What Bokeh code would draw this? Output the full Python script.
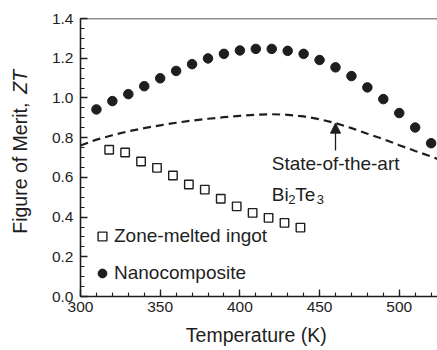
import math
from bokeh.plotting import figure
from bokeh.models import (Range1d, FixedTicker, Label, Arrow, NormalHead, Legend,
                          LegendItem, Span)
from bokeh.embed import file_html
from bokeh.resources import INLINE

# ---- data ----
temp_nano = [310, 320, 330, 340, 350, 360, 370, 380, 390, 400, 410,
             420, 430, 440, 450, 460, 470, 480, 490, 500, 510, 520]
zt_nano = [0.942, 0.984, 1.019, 1.059, 1.099, 1.136, 1.170, 1.199, 1.222, 1.239, 1.247,
           1.247, 1.237, 1.222, 1.191, 1.154, 1.110, 1.053, 0.994, 0.924, 0.851, 0.772]

temp_zone = [318, 328, 338, 348, 358, 368, 378, 388, 398, 408, 418, 428, 438]
zt_zone = [0.739, 0.725, 0.680, 0.648, 0.609, 0.564, 0.538, 0.492, 0.454,
           0.421, 0.396, 0.371, 0.347]

temp_sota = [300, 310, 320, 330, 340, 350, 360, 370, 380, 390, 400, 410,
             420, 430, 440, 450, 460, 470, 480, 490, 500, 510, 520, 525]
zt_sota = [0.760, 0.790, 0.812, 0.832, 0.848, 0.862, 0.875, 0.886, 0.895, 0.903, 0.910, 0.915,
           0.918, 0.915, 0.907, 0.893, 0.873, 0.848, 0.820, 0.793, 0.762, 0.733, 0.705, 0.690]

x_ticks = [300, 350, 400, 450, 500]
y_ticks = [0.0, 0.2, 0.4, 0.6, 0.8, 1.0, 1.2, 1.4]
y_tick_labels = {v: f"{v:.1f}" for v in y_ticks}

arrow_temp = 460
arrow_tip = 0.873
arrow_tail = 0.735

FONT = "Liberation Sans"
INK = "#1e1e1e"

p = figure(width=437, height=350, output_backend="svg", toolbar_location=None,
           x_range=Range1d(300, 524), y_range=Range1d(0, 1.4),
           min_border_left=80, min_border_right=0, min_border_top=18, min_border_bottom=54)
p.outline_line_color = None
p.xgrid.visible = False
p.ygrid.visible = False
p.background_fill_color = "white"
p.border_fill_color = "white"

# state-of-the-art dashed curve
p.line(temp_sota, zt_sota, line_color=INK, line_width=2.2, line_dash="8 5")

sq = p.scatter(temp_zone, zt_zone, marker="square", size=8.5, fill_color="white",
               line_color=INK, line_width=1.4)
ci = p.scatter(temp_nano, zt_nano, marker="circle", size=9.5, fill_color=INK,
               line_color=INK)

# axes
x_minor = [300 + 10 * i for i in range(23)]
y_minor = [round(0.05 * i, 2) for i in range(29)]
p.xaxis.ticker = FixedTicker(ticks=x_ticks, minor_ticks=x_minor)
p.yaxis.ticker = FixedTicker(ticks=y_ticks, minor_ticks=y_minor)
p.yaxis.major_label_overrides = y_tick_labels

for ax in (p.xaxis, p.yaxis):
    ax.axis_line_color = INK
    ax.axis_line_width = 1.6
    ax.major_tick_line_color = INK
    ax.minor_tick_line_color = INK
    ax.major_tick_line_width = 1.3
    ax.minor_tick_line_width = 1.1
    ax.major_tick_in = 7
    ax.major_tick_out = 0
    ax.minor_tick_in = 4
    ax.minor_tick_out = 0
    ax.major_label_text_font = FONT
    ax.major_label_text_font_size = "15.5px"
    ax.major_label_text_color = INK
    ax.axis_label_text_font = FONT
    ax.axis_label_text_font_size = "19.5px"
    ax.axis_label_text_font_style = "normal"
    ax.axis_label_text_color = INK

p.xaxis.major_label_standoff = 5
p.yaxis.major_label_standoff = 7
p.xaxis.axis_label = "Temperature  (K)"
p.xaxis.axis_label_standoff = 9

# top frame line
p.add_layout(Span(location=1.4, dimension="width", line_color=INK, line_width=1.6))

# y-axis label: "Figure of Merit, " + italic "ZT" (placed left of the frame)
p.add_layout(Label(x=262.0, y=0.316, text="Figure of Merit, ", angle=math.pi / 2,
                   text_align="left", text_baseline="alphabetic", text_font=FONT,
                   text_font_size="19.5px", text_color=INK), "left")
p.add_layout(Label(x=262.0, y=0.316, y_offset=140, text="ZT", angle=math.pi / 2,
                   text_align="left", text_baseline="alphabetic", text_font=FONT,
                   text_font_size="19.5px", text_font_style="italic", text_color=INK), "left")

# annotation text + arrow
p.add_layout(Label(x=420, y=0.668, text="State-of-the-art", text_baseline="middle",
                   text_font=FONT, text_font_size="19px", text_color=INK))
p.add_layout(Label(x=420, y=0.512, text="Bi", text_baseline="middle",
                   text_font=FONT, text_font_size="19px", text_color=INK))
p.add_layout(Label(x=420, y=0.512, x_offset=16.5, y_offset=-5, text="2",
                   text_baseline="middle", text_font=FONT, text_font_size="13px",
                   text_color=INK))
p.add_layout(Label(x=420, y=0.512, x_offset=23.5, text="Te", text_baseline="middle",
                   text_font=FONT, text_font_size="19px", text_color=INK))
p.add_layout(Label(x=420, y=0.512, x_offset=45, y_offset=-5, text="3",
                   text_baseline="middle", text_font=FONT, text_font_size="13px",
                   text_color=INK))
p.add_layout(Arrow(x_start=arrow_temp, y_start=arrow_tail, x_end=arrow_temp, y_end=arrow_tip,
                   line_color=INK, line_width=1.3,
                   end=NormalHead(size=10, fill_color=INK, line_color=INK, line_width=1)))

legend = Legend(items=[LegendItem(label="Zone-melted ingot", renderers=[sq]),
                       LegendItem(label="Nanocomposite", renderers=[ci])],
                location=(11, 12), border_line_color=None, background_fill_alpha=0,
                padding=0, margin=0, spacing=15, glyph_width=22, glyph_height=22,
                label_height=22, label_standoff=1, label_text_font=FONT,
                label_text_font_size="19px", label_text_color=INK)
p.add_layout(legend)

open("out.html", "w").write(file_html(p, INLINE))
